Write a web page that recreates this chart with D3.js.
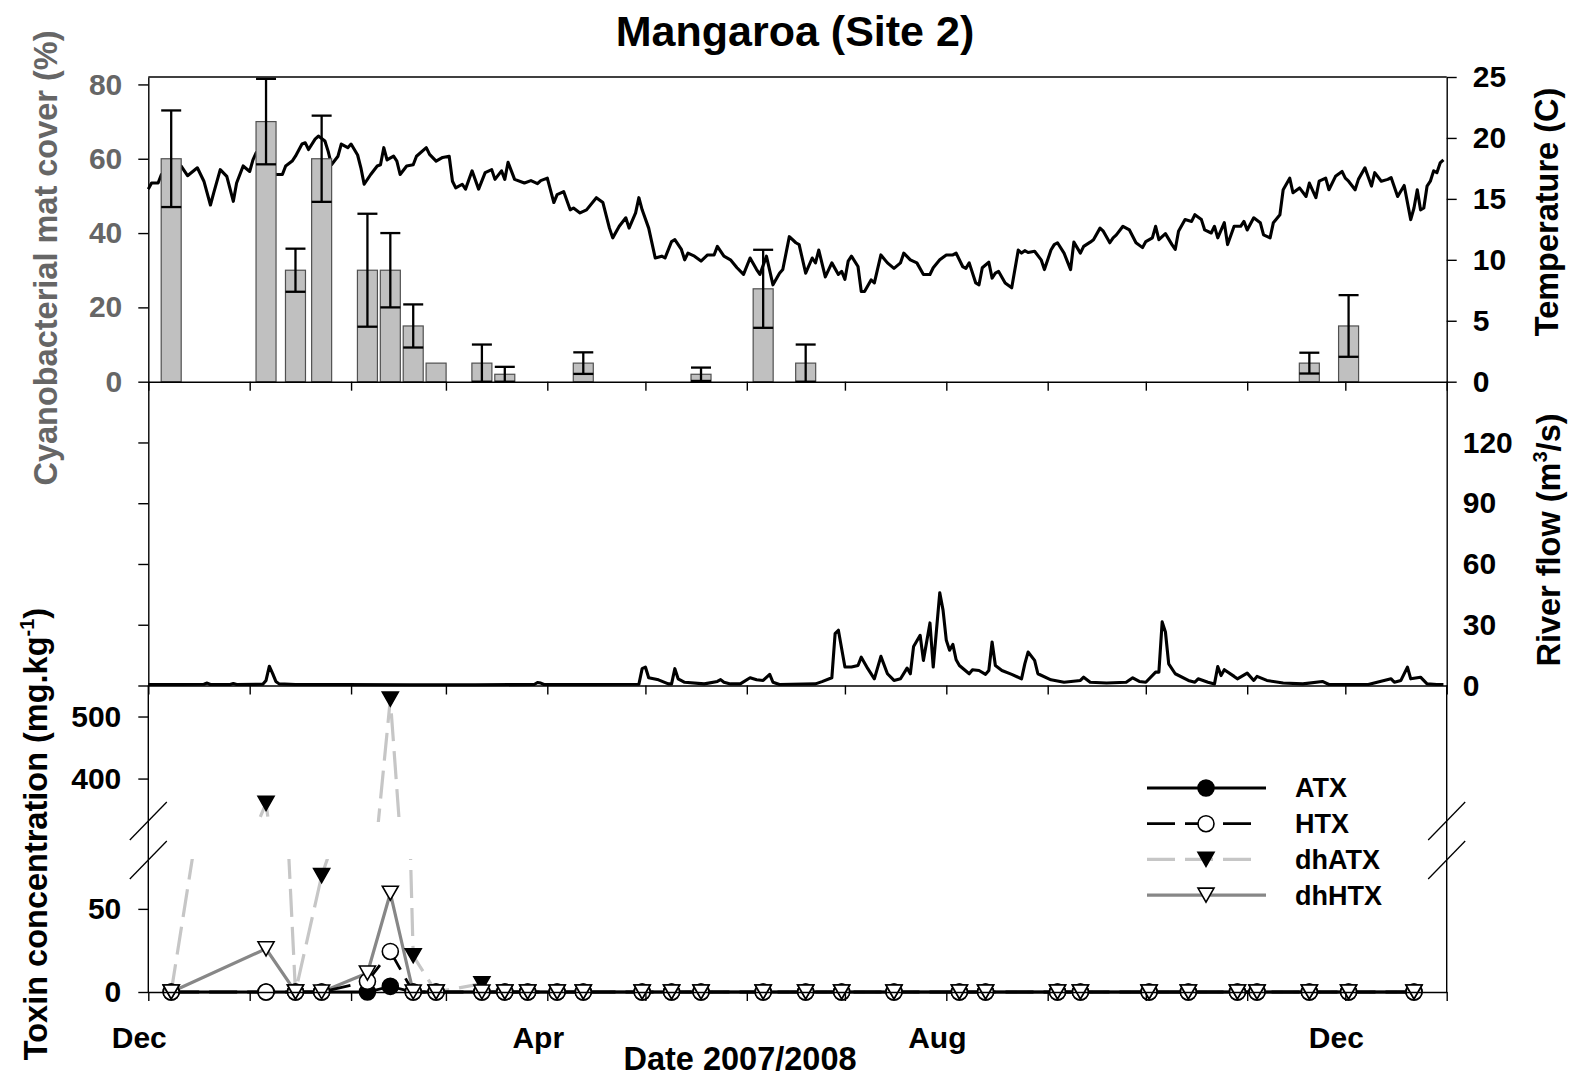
<!DOCTYPE html>
<html>
<head>
<meta charset="utf-8">
<script src="https://cdn.jsdelivr.net/npm/d3@7"></script>
<style>
  body { margin: 0; background: #fff; }
  svg text { font-family: "Liberation Sans", Arial, sans-serif; font-weight: bold; }
  .axis path, .axis line { stroke: #000; stroke-width: 1.4px; }
</style>
</head>
<body>
<div id="chart"></div>
<script>
// sampling visits: mat cover and toxin samples
const sampleDates = ["2007-12-08", "2008-01-06", "2008-01-15", "2008-01-23", "2008-02-06", "2008-02-13",
    "2008-02-20", "2008-02-27", "2008-03-12", "2008-03-19", "2008-03-26", "2008-04-04", "2008-04-12",
    "2008-04-30", "2008-05-09", "2008-05-18", "2008-06-06", "2008-06-19", "2008-06-30", "2008-07-16",
    "2008-08-05", "2008-08-13", "2008-09-04", "2008-09-11", "2008-10-02", "2008-10-14", "2008-10-29",
    "2008-11-04", "2008-11-20", "2008-12-02", "2008-12-22"];
const matCover = [60, 70, 30, 60, 30, 30, 15, 5, 5, 2, 0, 0, 5, 0, 0, 2, 25, 5, 0, 0, 0, 0, 0, 0, 0, 0, 0, 0, 5, 15, 0];
const matSD = [13, 11.5, 5.8, 11.6, 15.2, 10, 5.8, 0, 5, 2, 0, 0, 2.9, 0, 0, 1.8, 10.5, 5, 0, 0, 0, 0, 0, 0, 0, 0, 0, 0, 2.8, 8.3, 0];

// toxin concentrations (mg/kg)
const atx = [0, 0, 0, 0, 0, 3.4, 0, 0, 0, 0, 0, 0, 0, 0, 0, 0, 0, 0, 0, 0, 0, 0, 0, 0, 0, 0, 0, 0, 0, 0, 0];
const htx = [0, 0, 0, 0, 6.4, 24.4, 0, 0, 0, 0, 0, 0, 0, 0, 0, 0, 0, 0, 0, 0, 0, 0, 0, 0, 0, 0, 0, 0, 0, 0, 0];
const dhatx = [0, 360, 0, 70, 150, 528, 21.8, 0, 5, 0, 0, 0, 0, 0, 0, 0, 0, 0, 0, 0, 0, 0, 0, 0, 0, 0, 0, 0, 0, 0, 0];
const dhhtx = [0, 26, 0, 0, 11.4, 59.4, 0, 0, 0, 0, 0, 0, 0, 0, 0, 0, 0, 0, 0, 0, 0, 0, 0, 0, 0, 0, 0, 0, 0, 0, 0];

// logger records, day number counted from 1 Dec 2007
const tempDay = [0, 1, 3, 4, 6, 8, 10, 12, 15, 17, 19, 20, 22, 24, 26, 27, 29, 31, 32, 33, 35, 37, 39, 41, 42, 44,
    45, 47, 48, 49, 51, 52, 54, 55, 56, 58, 59, 61, 62, 64, 65, 66, 68, 70, 71, 72, 73, 75, 76, 77, 79, 81, 82, 85,
    86, 88, 90, 92, 93, 94, 96, 97, 99, 101, 103, 105, 106, 108, 109, 110, 112, 115, 117, 119, 120, 122, 124, 125,
    127, 129, 130, 132, 134, 137, 139, 141, 142, 144, 146, 147, 149, 150, 151, 153, 155, 157, 158, 160, 161, 163,
    164, 165, 167, 169, 171, 173, 174, 176, 178, 180, 182, 184, 186, 187, 189, 191, 193, 194, 196, 198, 199, 201,
    203, 204, 205, 207, 209, 211, 212, 213, 214, 215, 217, 218, 219, 221, 222, 224, 226, 228, 230, 231, 233, 235,
    237, 239, 240, 242, 244, 246, 247, 249, 250, 251, 253, 254, 255, 257, 258, 259, 260, 262, 264, 266, 267, 268,
    269, 271, 273, 274, 276, 277, 278, 280, 282, 283, 285, 286, 288, 289, 291, 292, 294, 295, 296, 298, 300, 302,
    304, 305, 307, 308, 309, 311, 313, 314, 315, 317, 319, 320, 322, 323, 325, 326, 327, 329, 330, 332, 334, 335,
    336, 338, 340, 341, 343, 344, 346, 347, 349, 350, 352, 354, 355, 357, 358, 360, 361, 363, 365, 366, 367, 369,
    370, 372, 374, 375, 377, 379, 380, 382, 384, 386, 387, 388, 389, 390, 391, 392, 393, 394, 395, 396];
const tempC = [15.8, 16.3, 16.3, 17.0, 17.3, 17.5, 17.7, 16.9, 17.55, 16.45, 14.5, 15.5, 17.4, 16.85, 14.8, 16.3,
    17.7, 17.25, 18.2, 18.8, 18.3, 17.6, 17.0, 17.0, 17.7, 18.1, 18.5, 19.5, 19.6, 19.05, 19.9, 20.15, 19.75, 18.9,
    17.8, 18.5, 19.5, 19.2, 19.5, 18.6, 17.55, 16.2, 17.0, 17.7, 17.8, 19.2, 18.2, 18.5, 18.1, 17.0, 17.7, 17.8,
    18.5, 19.2, 18.65, 18.1, 18.4, 18.5, 16.45, 15.9, 16.2, 15.8, 17.3, 15.8, 17.15, 17.4, 16.6, 17.3, 16.6, 18.0,
    16.6, 16.3, 16.5, 16.25, 16.5, 16.7, 14.7, 15.35, 15.6, 14.1, 14.25, 13.85, 14.1, 15.1, 14.7, 12.6, 11.8,
    12.75, 13.45, 12.6, 13.85, 15.1, 14.1, 12.6, 10.15, 10.3, 10.15, 11.5, 11.65, 10.85, 10.0, 10.55, 10.3, 9.9,
    10.4, 10.4, 11.1, 10.3, 10.0, 9.35, 8.8, 10.15, 9.2, 8.8, 10.3, 7.95, 8.9, 9.2, 11.9, 11.4, 11.25, 8.9, 10.15,
    9.75, 10.8, 8.6, 9.75, 8.8, 9.05, 8.4, 9.9, 10.3, 9.45, 7.4, 7.4, 8.35, 8.1, 10.4, 9.75, 9.3, 9.75, 10.55, 10.0,
    9.75, 8.8, 8.8, 9.35, 10.0, 10.4, 10.4, 10.55, 9.45, 9.3, 9.75, 8.1, 7.95, 9.35, 9.8, 8.5, 8.9, 9.05, 8.1, 7.7,
    10.8, 10.55, 10.75, 10.6, 10.7, 10.0, 9.2, 10.8, 11.25, 11.4, 10.55, 9.2, 11.45, 10.55, 11.1, 11.45, 11.65,
    12.6, 12.35, 11.4, 11.8, 12.05, 12.75, 12.45, 11.4, 11.0, 11.5, 11.8, 12.75, 11.65, 12.15, 11.25, 10.85, 12.35,
    13.3, 13.15, 13.7, 13.3, 12.45, 12.2, 12.75, 11.8, 13.05, 11.25, 12.75, 12.75, 13.15, 12.45, 13.45, 13.05,
    12.05, 11.8, 13.05, 13.7, 15.75, 16.7, 15.5, 15.9, 15.2, 16.3, 15.1, 16.45, 16.7, 15.75, 16.85, 17.25, 16.7,
    16.45, 15.75, 16.6, 17.55, 16.05, 17.15, 16.45, 16.6, 16.75, 15.2, 16.1, 13.3, 14.25, 15.75, 14.1, 14.25,
    16.05, 16.45, 17.3, 17.15, 17.95, 18.2];

const flowDay = [0, 10, 17, 18, 19, 25, 26, 27, 35, 36, 37, 38, 39, 40, 45, 60, 80, 100, 118, 119, 120, 121, 135,
    150, 151, 152, 153, 156, 159, 160, 161, 162, 164, 170, 174, 175, 176, 178, 181, 184, 186, 188, 190, 191, 193,
    204, 206, 209, 210, 211, 213, 215, 217, 218, 220, 222, 224, 226, 228, 230, 232, 233, 234, 236, 237, 239, 240,
    242, 243, 244, 245, 246, 247, 248, 251, 252, 254, 256, 257, 258, 259, 261, 264, 267, 268, 269, 271, 272, 276,
    280, 285, 286, 288, 293, 299, 301, 303, 305, 308, 309, 310, 311, 312, 314, 318, 320, 321, 324, 326, 327, 328,
    329, 332, 333, 336, 338, 339, 342, 347, 353, 359, 361, 373, 380, 381, 383, 385, 386, 389, 391, 394, 396];
const flowRate = [0.5, 0.5, 0.6, 1.2, 0.5, 0.5, 1.0, 0.5, 0.6, 2.5, 9.5, 6, 2, 0.8, 0.5, 0.5, 0.4, 0.4, 0.5, 1.5,
    1.2, 0.5, 0.5, 0.6, 8.3, 9.1, 3.8, 2.8, 0.8, 0.8, 8.3, 3.3, 1.6, 0.8, 2.0, 2.9, 1.6, 0.8, 0.8, 3.8, 2.8, 2.5,
    5.5, 1.6, 0.5, 0.8, 1.9, 3.8, 25.6, 27.3, 9.1, 9.1, 9.9, 14.0, 8.3, 3.3, 14.4, 5.8, 2.5, 3.3, 8.6, 5.8, 19.3,
    24.8, 12.4, 30.9, 9.1, 45.8, 37.2, 22.3, 17.4, 20.3, 12.7, 9.9, 5.8, 7.8, 7.4, 5.5, 7.4, 21.5, 9.9, 7.4, 5.5,
    3.3, 10.7, 16.5, 12.4, 5.8, 2.8, 1.6, 2.5, 4.1, 1.6, 1.2, 1.6, 3.8, 2.0, 1.6, 6.6, 6.6, 31.4, 26.4, 10.7, 5.8,
    2.5, 1.6, 3.3, 1.6, 0.8, 9.4, 4.9, 7.8, 4.5, 3.3, 6.1, 2.5, 4.5, 2.5, 1.2, 0.8, 2.0, 0.5, 0.5, 3.3, 1.6, 2.5,
    9.1, 3.3, 4.1, 0.8, 0.5, 0.5];

const matTicks = [0, 20, 40, 60, 80];
const tempTicks = [0, 5, 10, 15, 20, 25];
const flowTicks = [0, 30, 60, 90, 120];
const toxLowTicks = [0, 50];
const toxHighTicks = [400, 500];
const monthLabels = ["Dec", "Apr", "Aug", "Dec"];
const monthLabelDates = ["2007-12-01", "2008-04-01", "2008-08-01", "2008-12-01"];
const seriesNames = ["ATX", "HTX", "dhATX", "dhHTX"];

const parseDate = d3.timeParse("%Y-%m-%d");
const startDate = new Date(2007, 11, 1);
const dayDate = d => d3.timeDay.offset(startDate, d);

const svg = d3.select("#chart").append("svg")
    .attr("width", 1574)
    .attr("height", 1077);

// panel geometry
const plotLeft = 148.3, plotRight = 1446.7;
const topY = 77, matBase = 381.7, flowBase = 685.5, toxBase = 992;
const breakLow = 859, breakHigh = 822;

const x = d3.scaleTime().domain([startDate, new Date(2009, 0, 1)]).range([plotLeft, plotRight]);
const yMat = d3.scaleLinear().domain([0, 82]).range([matBase, topY]);
const yTemp = d3.scaleLinear().domain([0, 25]).range([matBase, topY]);
const yFlow = d3.scaleLinear().domain([0, 150]).range([flowBase, matBase]);
const yToxLow = d3.scaleLinear().domain([0, 80]).range([toxBase, breakLow]);
const yToxHigh = d3.scaleLinear().domain([330, 550]).range([breakHigh, flowBase]);

const samples = sampleDates.map((d, i) => ({date: parseDate(d), cover: matCover[i], sd: matSD[i]}));

// title
svg.append("text")
    .attr("x", 795).attr("y", 46)
    .attr("text-anchor", "middle")
    .attr("font-size", 43)
    .text("Mangaroa (Site 2)");

// ---- top panel: temperature line behind mat cover bars ----
const tempLine = d3.line()
    .x((d, i) => x(dayDate(d)))
    .y((d, i) => yTemp(tempC[i]));
svg.append("path")
    .attr("d", tempLine(tempDay))
    .attr("fill", "none")
    .attr("stroke", "#000")
    .attr("stroke-width", 3.1)
    .attr("stroke-linejoin", "round");

const bars = svg.append("g").selectAll("g")
    .data(samples.filter(d => d.cover > 0))
    .join("g");
bars.append("rect")
    .attr("x", d => x(d.date) - 10)
    .attr("width", 20)
    .attr("y", d => yMat(d.cover))
    .attr("height", d => matBase - yMat(d.cover))
    .attr("fill", "#c0c0c0")
    .attr("stroke", "#505050")
    .attr("stroke-width", 1.2);

const errs = bars.filter(d => d.sd > 0);
errs.append("line")
    .attr("x1", d => x(d.date)).attr("x2", d => x(d.date))
    .attr("y1", d => yMat(Math.max(0, d.cover - d.sd)))
    .attr("y2", d => yMat(d.cover + d.sd));
errs.append("line")
    .attr("x1", d => x(d.date) - 10).attr("x2", d => x(d.date) + 10)
    .attr("y1", d => yMat(d.cover + d.sd)).attr("y2", d => yMat(d.cover + d.sd));
errs.append("line")
    .attr("x1", d => x(d.date) - 10).attr("x2", d => x(d.date) + 10)
    .attr("y1", d => yMat(Math.max(0, d.cover - d.sd))).attr("y2", d => yMat(Math.max(0, d.cover - d.sd)));
errs.selectAll("line").attr("stroke", "#000").attr("stroke-width", 2.3);

// ---- middle panel: river flow ----
const flowLine = d3.line()
    .x(d => x(dayDate(d)))
    .y((d, i) => yFlow(flowRate[i]));
svg.append("path")
    .attr("d", flowLine(flowDay))
    .attr("fill", "none")
    .attr("stroke", "#000")
    .attr("stroke-width", 3.1)
    .attr("stroke-linejoin", "round");

// ---- bottom panel: toxins on a broken axis ----
svg.append("clipPath").attr("id", "clip-low").append("rect")
    .attr("x", 0).attr("y", breakLow).attr("width", 1574).attr("height", 1077 - breakLow);
svg.append("clipPath").attr("id", "clip-high").append("rect")
    .attr("x", 0).attr("y", flowBase).attr("width", 1574).attr("height", breakHigh - flowBase);

const toxStyle = {
    ATX: {values: atx, stroke: "#000", dash: null, width: 2.8, shape: "circle", fill: "#000"},
    HTX: {values: htx, stroke: "#000", dash: "28,10", width: 2.8, shape: "circle", fill: "#fff"},
    dhATX: {values: dhatx, stroke: "#c6c6c6", dash: "28,10", width: 3.2, shape: "triangle", fill: "#000"},
    dhHTX: {values: dhhtx, stroke: "#878787", dash: null, width: 3.2, shape: "triangle", fill: "#fff"}
};
const lineOrder = ["dhATX", "dhHTX", "HTX", "ATX"];
const markOrder = ["ATX", "HTX", "dhATX", "dhHTX"];
const triPath = "M-8,-7L8,-7L0,7Z";

function drawMarker(g, s, cx, cy) {
    const m = s.shape === "circle"
        ? g.append("circle").attr("cx", cx).attr("cy", cy).attr("r", 8)
        : g.append("path").attr("d", triPath).attr("transform", "translate(" + cx + "," + cy + ")");
    m.attr("fill", s.fill).attr("stroke", "#000").attr("stroke-width", 1.6);
}

[[yToxLow, "clip-low"], [yToxHigh, "clip-high"]].forEach(([yScale, clip]) => {
    const g = svg.append("g").attr("clip-path", "url(#" + clip + ")");
    lineOrder.forEach(name => {
        const s = toxStyle[name];
        const line = d3.line()
            .x((v, i) => x(samples[i].date))
            .y(v => yScale(v));
        g.append("path")
            .attr("d", line(s.values))
            .attr("fill", "none")
            .attr("stroke", s.stroke)
            .attr("stroke-width", s.width)
            .attr("stroke-dasharray", s.dash);
    });
    markOrder.forEach(name => {
        const s = toxStyle[name];
        s.values.forEach((v, i) => {
            const inRange = yScale === yToxLow ? v <= 80 : v >= 330;
            if (inRange) drawMarker(g, s, x(samples[i].date), yScale(v));
        });
    });
});

// legend
const legend = svg.append("g");
seriesNames.forEach((name, i) => {
    const s = toxStyle[name];
    const ly = 788 + i * 35.7;
    legend.append("line")
        .attr("x1", 1147).attr("x2", s.dash ? 1252 : 1266)
        .attr("y1", ly).attr("y2", ly)
        .attr("stroke", s.stroke)
        .attr("stroke-width", s.width)
        .attr("stroke-dasharray", s.dash);
    drawMarker(legend, s, 1206, ly);
    legend.append("text")
        .attr("x", 1295).attr("y", ly)
        .attr("dy", "0.35em")
        .attr("font-size", 27)
        .text(name);
});

// ---- axes ----
function styleAxis(g, size, color) {
    g.attr("font-size", size).attr("fill", null);
    g.selectAll("text").attr("fill", color);
}

// month ticks under each panel
[matBase, flowBase, toxBase].forEach(yb => {
    svg.append("g")
        .attr("class", "axis")
        .attr("transform", "translate(0," + yb + ")")
        .call(d3.axisBottom(x).ticks(d3.timeMonth.every(1)).tickSize(9).tickSizeOuter(0).tickFormat(""));
});

svg.append("line")
    .attr("x1", plotLeft).attr("x2", plotRight)
    .attr("y1", topY).attr("y2", topY)
    .attr("stroke", "#000").attr("stroke-width", 1.4);

svg.append("g")
    .attr("class", "axis")
    .attr("transform", "translate(" + plotLeft + ",0)")
    .call(d3.axisLeft(yMat).tickValues(matTicks).tickSize(10).tickSizeOuter(0).tickPadding(16))
    .call(g => styleAxis(g, 30, "#666"));

svg.append("g")
    .attr("class", "axis")
    .attr("transform", "translate(" + plotRight + ",0)")
    .call(d3.axisRight(yTemp).tickValues(tempTicks).tickSize(10).tickSizeOuter(0).tickPadding(16))
    .call(g => styleAxis(g, 30, "#000"));

svg.append("g")
    .attr("class", "axis")
    .attr("transform", "translate(" + plotLeft + ",0)")
    .call(d3.axisLeft(yFlow).tickValues(flowTicks).tickSize(10).tickSizeOuter(0).tickFormat(""));

svg.append("g")
    .attr("class", "axis")
    .attr("transform", "translate(" + plotRight + ",0)")
    .call(d3.axisRight(yFlow).tickValues(flowTicks).tickSize(0).tickSizeOuter(0).tickPadding(16))
    .call(g => styleAxis(g, 30, "#000"));

[[yToxLow, toxLowTicks], [yToxHigh, toxHighTicks]].forEach(([yScale, ticks]) => {
    svg.append("g")
        .attr("class", "axis")
        .attr("transform", "translate(" + plotLeft + ",0)")
        .call(d3.axisLeft(yScale).tickValues(ticks).tickSize(10).tickPadding(17))
        .call(g => g.select(".domain").remove())
        .call(g => styleAxis(g, 30, "#000"));
});

// side lines of the toxin panel, with break marks
[plotLeft, plotRight].forEach(xp => {
    svg.append("line")
        .attr("x1", xp).attr("x2", xp)
        .attr("y1", flowBase).attr("y2", toxBase)
        .attr("stroke", "#000").attr("stroke-width", 1.4);
    [breakHigh - 1, breakLow + 1].forEach(yb => {
        svg.append("line")
            .attr("x1", xp - 18.5).attr("y1", yb + 19)
            .attr("x2", xp + 18.5).attr("y2", yb - 19)
            .attr("stroke", "#000").attr("stroke-width", 1.3);
    });
});

// month labels
svg.append("g").selectAll("text")
    .data(monthLabels)
    .join("text")
    .attr("x", (d, i) => x(parseDate(monthLabelDates[i])) - 9)
    .attr("y", 1048)
    .attr("text-anchor", "middle")
    .attr("font-size", 30)
    .text(d => d);

// axis titles
svg.append("text")
    .attr("transform", "translate(740,1070)")
    .attr("text-anchor", "middle")
    .attr("font-size", 32.5)
    .text("Date 2007/2008");

svg.append("text")
    .attr("transform", "translate(57,258) rotate(-90)")
    .attr("text-anchor", "middle")
    .attr("font-size", 32.5)
    .attr("fill", "#666")
    .text("Cyanobacterial mat cover (%)");

svg.append("text")
    .attr("transform", "translate(1558,212) rotate(-90)")
    .attr("text-anchor", "middle")
    .attr("font-size", 32.5)
    .text("Temperature (C)");

const flowTitle = svg.append("text")
    .attr("transform", "translate(1560,540) rotate(-90)")
    .attr("text-anchor", "middle")
    .attr("font-size", 32.5);
flowTitle.append("tspan").text("River flow (m");
flowTitle.append("tspan").attr("font-size", 20).attr("dy", -13).text("3");
flowTitle.append("tspan").attr("dy", 13).text("/s)");

const toxTitle = svg.append("text")
    .attr("transform", "translate(47,834) rotate(-90)")
    .attr("text-anchor", "middle")
    .attr("font-size", 32.5);
toxTitle.append("tspan").text("Toxin concentration (mg.kg");
toxTitle.append("tspan").attr("font-size", 20).attr("dy", -13).text("-1");
toxTitle.append("tspan").attr("dy", 13).text(")");
</script>
</body>
</html>
